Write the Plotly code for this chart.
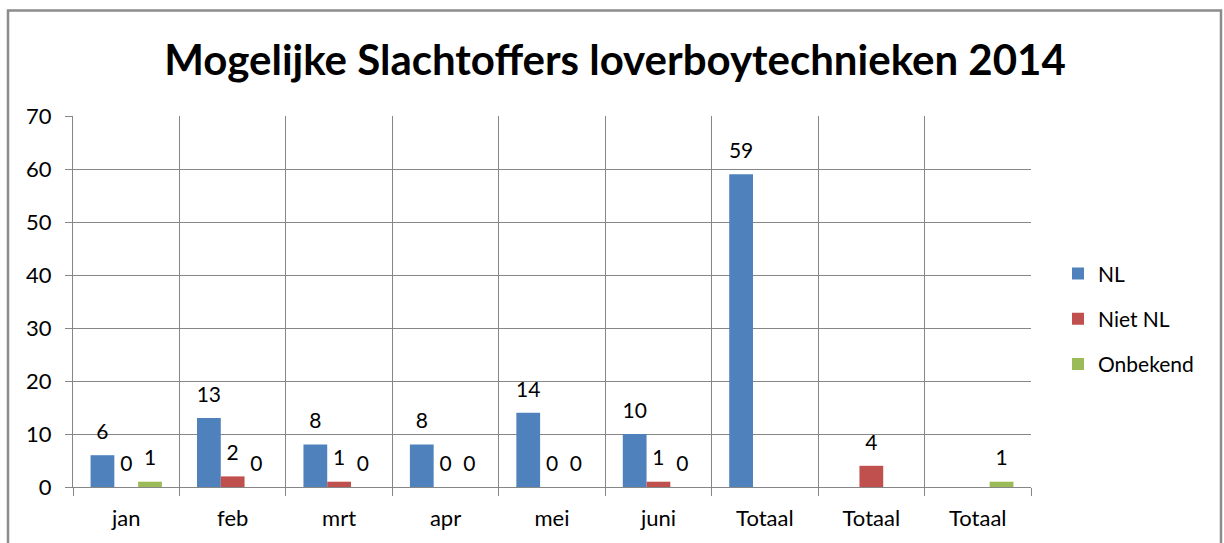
import plotly.graph_objects as go

categories = ["jan", "feb", "mrt", "apr", "mei", "juni", "Totaal", "Totaal", "Totaal"]
nl = [6, 13, 8, 8, 14, 10, 59, None, None]
niet_nl = [0, 2, 1, 0, 0, 1, None, 4, None]
onbekend = [1, 0, 0, 0, 0, 0, None, None, 1]

series = [("NL", nl, "#4F81BD"), ("Niet NL", niet_nl, "#C0504D"), ("Onbekend", onbekend, "#9BBB59")]
xpos = list(range(len(categories)))
FONT = "Lato"
GAP = 0.33

fig = go.Figure()
for name, vals, col in series:
    fig.add_trace(go.Bar(x=xpos, y=vals, name=name, marker=dict(color=col, line=dict(width=0)),
                         legendgroup=name, offsetgroup=name))
for name, vals, col in series:
    fig.add_trace(go.Scatter(x=xpos, y=vals, mode="markers+text", text=[("" if v is None else str(v)) for v in vals],
                             textposition="top center", marker=dict(size=16, opacity=0),
                             textfont=dict(family=FONT, size=21, color="black"),
                             showlegend=False, hoverinfo="skip", offsetgroup=name, cliponaxis=False))

W, H = 1224, 543
L, R, T, B = 73, 1031, 116, 489
pw, ph = R - L, B - T

def px(x):
    return (x - L) / pw

def py(y):
    return (B - y) / ph

fig.update_layout(
    width=W, height=H,
    margin=dict(l=L, r=W - R, t=T, b=H - B),
    paper_bgcolor="white", plot_bgcolor="white",
    barmode="group", bargap=GAP, bargroupgap=0,
    scattermode="group", scattergap=GAP,
    font=dict(family=FONT, size=21, color="black"),
    title=dict(text="<b>Mogelijke Slachtoffers loverboytechnieken 2014</b>",
               font=dict(family=FONT, size=42, color="black"),
               x=px(615), xref="paper", xanchor="center",
               y=1 - 60 / H, yref="container", yanchor="middle"),
    legend=dict(x=px(1058), y=py(254), xanchor="left", yanchor="top",
                font=dict(family=FONT, size=21, color="black"),
                tracegroupgap=15, itemwidth=30, bgcolor="rgba(0,0,0,0)"),
    showlegend=True,
    shapes=[dict(type="rect", xref="paper", yref="paper",
                 x0=px(8), x1=px(1221), y0=py(600), y1=py(10),
                 line=dict(color="#8C8C8C", width=2.5), fillcolor="rgba(0,0,0,0)", layer="below")],
)
fig.update_xaxes(
    range=[-0.5, len(categories) - 0.5],
    tickmode="array", tickvals=xpos, ticktext=categories,
    ticks="", showgrid=False, zeroline=False,
    showline=True, linecolor="#868686", linewidth=1,
    ticklabelstandoff=12,
    tickfont=dict(family=FONT, size=22, color="black"),
    minor=dict(tickmode="array", tickvals=[i - 0.5 for i in range(len(categories) + 1)],
               ticks="outside", ticklen=8, tickcolor="#868686", showgrid=True,
               gridcolor="#868686", gridwidth=1),
)
fig.update_yaxes(
    range=[0, 70], dtick=10, tick0=0,
    ticks="outside", ticklen=7, tickcolor="#868686",
    showgrid=True, gridcolor="#868686", gridwidth=1,
    zeroline=False, showline=True, linecolor="#868686", linewidth=1,
    ticklabelstandoff=9,
    tickfont=dict(family=FONT, size=22, color="black"),
)

fig.write_html("out.html", config={"displayModeBar": False},
               post_script="document.body.style.margin='0';document.body.style.overflow='hidden';")
